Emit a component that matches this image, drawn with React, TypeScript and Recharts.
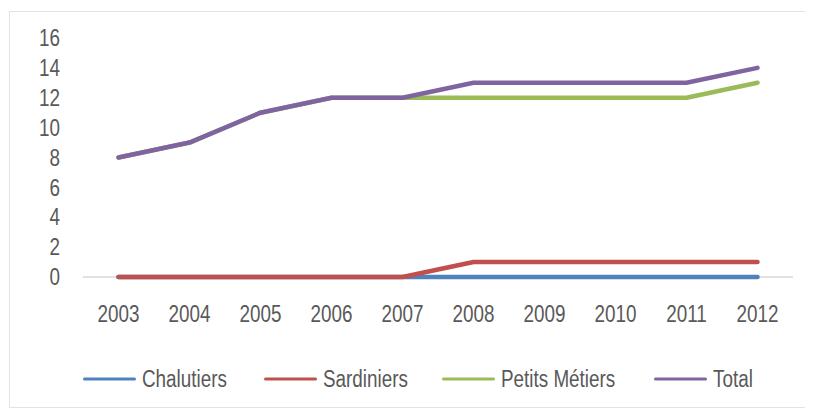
import { LineChart, Line, XAxis, YAxis, Legend, CartesianGrid } from 'recharts'

const years = ['2003', '2004', '2005', '2006', '2007', '2008', '2009', '2010', '2011', '2012']
const chalutiers = [0, 0, 0, 0, 0, 0, 0, 0, 0, 0]
const sardiniers = [0, 0, 0, 0, 0, 1, 1, 1, 1, 1]
const petitsMetiers = [8, 9, 11, 12, 12, 12, 12, 12, 12, 13]
const total = [8, 9, 11, 12, 12, 13, 13, 13, 13, 14]
const yTicks = [0, 2, 4, 6, 8, 10, 12, 14, 16]

const SERIES = [
  { key: 'chalutiers', name: 'Chalutiers', color: '#4F81BD' },
  { key: 'sardiniers', name: 'Sardiniers', color: '#C0504D' },
  { key: 'petitsMetiers', name: 'Petits Métiers', color: '#9BBB59' },
  { key: 'total', name: 'Total', color: '#8064A2' },
]

// no Arial Narrow here: squeeze Liberation Sans horizontally instead
const FONT = "'Liberation Sans', Arial, sans-serif"
const SQUEEZE = 0.82
const TEXT = '#595959'

const data = years.map((year, i) => ({
  year,
  chalutiers: chalutiers[i],
  sardiniers: sardiniers[i],
  petitsMetiers: petitsMetiers[i],
  total: total[i],
}))

function NarrowTick({ x, y, payload, textAnchor, dy }: any) {
  return (
    <text
      transform={`translate(${x},${y}) scale(${SQUEEZE},1)`}
      textAnchor={textAnchor}
      dy={dy}
      fill={TEXT}
      fontSize={23}
      fontFamily={FONT}
    >
      {payload.value}
    </text>
  )
}

// legend item left edges (px from chart's left)
const LEGEND_LEFT = [73, 254, 432, 644]

function LegendContent() {
  return (
    <div
      style={{
        position: 'relative',
        height: 70,
        fontFamily: FONT,
        fontSize: 23,
        color: TEXT,
      }}
    >
      {SERIES.map((s, i) => (
        <div
          key={s.key}
          style={{
            position: 'absolute',
            left: LEGEND_LEFT[i],
            top: 42,
            transform: 'translateY(-50%)',
            display: 'flex',
            alignItems: 'center',
            whiteSpace: 'nowrap',
          }}
        >
          <span
            style={{
              display: 'inline-block',
              width: 53,
              height: 3,
              borderRadius: 2,
              background: s.color,
              marginRight: 6,
            }}
          />
          <span style={{ display: 'inline-block', transform: `scaleX(${SQUEEZE})`, transformOrigin: 'left center' }}>
            {s.name}
          </span>
        </div>
      ))}
    </div>
  )
}

export default function App() {
  return (
    <div
      style={{
        width: 801,
        height: 395,
        marginTop: 3,
        marginLeft: 1,
        border: '1px solid #e3e3e3',
      }}
    >
      <LineChart
        width={801}
        height={395}
        data={data}
        margin={{ top: 26, right: 18, left: 0, bottom: 0 }}
      >
        {/* baseline drawn as a grid line so the series sit on top of it */}
        <CartesianGrid vertical={false} horizontalValues={[0]} stroke="#d9d9d9" strokeWidth={1.5} />
        <XAxis
          dataKey="year"
          tickLine={false}
          axisLine={false}
          tick={<NarrowTick dy="0.71em" />}
          tickMargin={23}
          height={60}
          interval={0}
          padding={{ left: 35.5, right: 35.5 }}
        />
        <YAxis
          domain={[0, 16]}
          ticks={yTicks}
          axisLine={false}
          tickLine={false}
          tick={<NarrowTick dy="0.355em" />}
          tickSize={0}
          tickMargin={23}
          width={73}
          interval={0}
        />
        <Legend verticalAlign="bottom" content={<LegendContent />} />
        {SERIES.map((s) => (
          <Line
            key={s.key}
            dataKey={s.key}
            name={s.name}
            type="linear"
            stroke={s.color}
            strokeWidth={4.5}
            strokeLinecap="round"
            strokeLinejoin="round"
            dot={false}
            activeDot={false}
            isAnimationActive={false}
          />
        ))}
      </LineChart>
    </div>
  )
}
